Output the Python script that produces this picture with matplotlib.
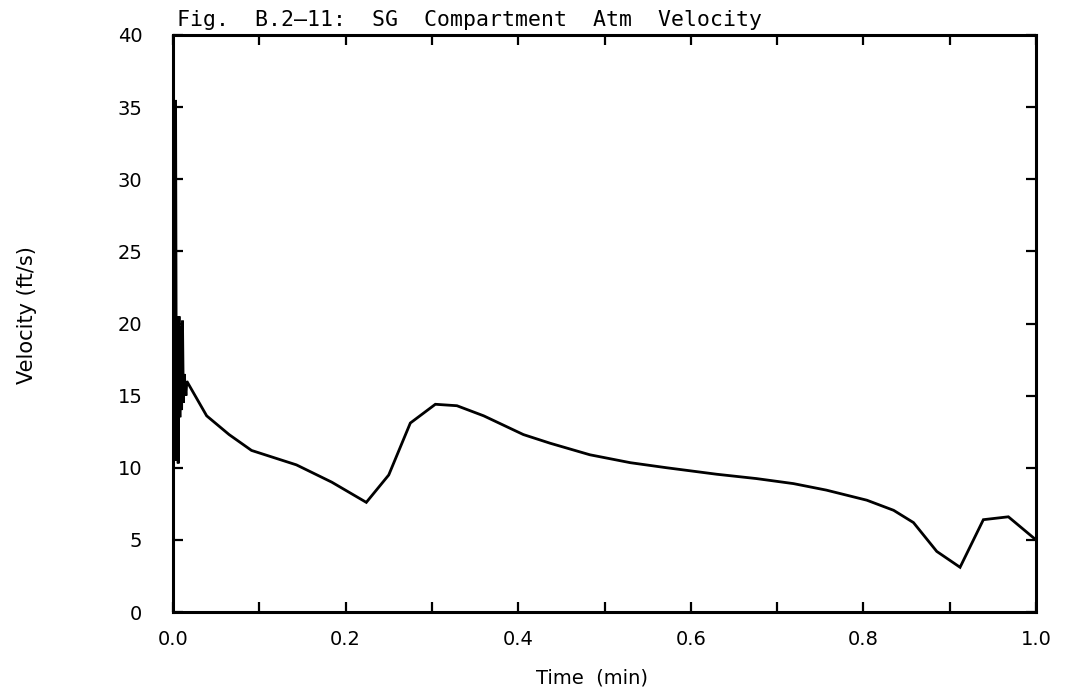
import matplotlib
matplotlib.use("Agg")
import matplotlib.pyplot as plt
from matplotlib.ticker import MultipleLocator, FixedLocator

# ---- data ----
time_min = [0.000, 0.003, 0.004, 0.005, 0.006, 0.007, 0.008, 0.009, 0.010,
            0.011, 0.012, 0.013, 0.015, 0.016,
            0.039, 0.065, 0.091, 0.143, 0.184, 0.224, 0.250, 0.275, 0.304,
            0.329, 0.360, 0.406, 0.437, 0.483, 0.530, 0.572, 0.630, 0.676,
            0.719, 0.757, 0.804, 0.835, 0.858, 0.885, 0.912, 0.939, 0.968,
            1.000]
velocity = [10.0, 35.5, 10.5, 19.5, 10.3, 20.5, 13.5, 19.8, 14.0,
            20.2, 14.5, 16.5, 15.0, 16.0,
            13.6, 12.3, 11.2, 10.2, 9.0, 7.6, 9.5, 13.1, 14.4,
            14.3, 13.6, 12.3, 11.7, 10.9, 10.35, 10.0, 9.55, 9.25,
            8.9, 8.45, 7.75, 7.05, 6.2, 4.2, 3.1, 6.4, 6.6,
            5.0]

x_ticks = [0.0, 0.2, 0.4, 0.6, 0.8, 1.0]
x_tick_labels = ["0.0", "0.2", "0.4", "0.6", "0.8", "1.0"]
y_ticks = [0, 5, 10, 15, 20, 25, 30, 35, 40]
y_tick_labels = ["0", "5", "10", "15", "20", "25", "30", "35", "40"]

title = "Fig.  B.2\u201311:  SG  Compartment  Atm  Velocity"
x_label = "Time  (min)"
y_label = "Velocity (ft/s)"

W, H = 1074, 698
fig = plt.figure(figsize=(W / 100, H / 100), dpi=100)
fig.patch.set_facecolor("white")

left, right, top, bottom = 173, 1036, 35, 612
ax = fig.add_axes([left / W, 1 - bottom / H, (right - left) / W, (bottom - top) / H])

ax.plot(time_min, velocity, color="black", lw=2.0, solid_joinstyle="miter")

ax.set_xlim(0, 1.0)
ax.set_ylim(0, 40)

for s in ax.spines.values():
    s.set_linewidth(2.2)
    s.set_color("black")

ax.xaxis.set_major_locator(FixedLocator(x_ticks))
ax.set_xticklabels(x_tick_labels)
ax.xaxis.set_minor_locator(MultipleLocator(0.1))
ax.yaxis.set_major_locator(FixedLocator(y_ticks))
ax.set_yticklabels(y_tick_labels)

ax.tick_params(axis="both", which="both", direction="in", length=7, width=1.6,
               top=True, right=True, colors="black")
ax.tick_params(axis="x", which="major", pad=13, labelsize=14)
ax.tick_params(axis="y", which="major", pad=22, labelsize=14)
ax.tick_params(axis="y", which="minor", left=False, right=False)

for lab in ax.get_xticklabels() + ax.get_yticklabels():
    lab.set_fontfamily("DejaVu Sans")

fig.text(177 / W, 1 - 26 / H, title, ha="left", va="baseline",
         fontsize=15.5, family="DejaVu Sans Mono")
fig.text(592 / W, 1 - 678 / H, x_label, ha="center", va="center",
         fontsize=14, family=["Liberation Sans Narrow", "DejaVu Sans"])
fig.text(27 / W, 1 - 315 / H, y_label, ha="center", va="center", rotation=90,
         fontsize=15, family=["Liberation Sans Narrow", "DejaVu Sans"])

fig.savefig("out.png", dpi=100, facecolor="white")
